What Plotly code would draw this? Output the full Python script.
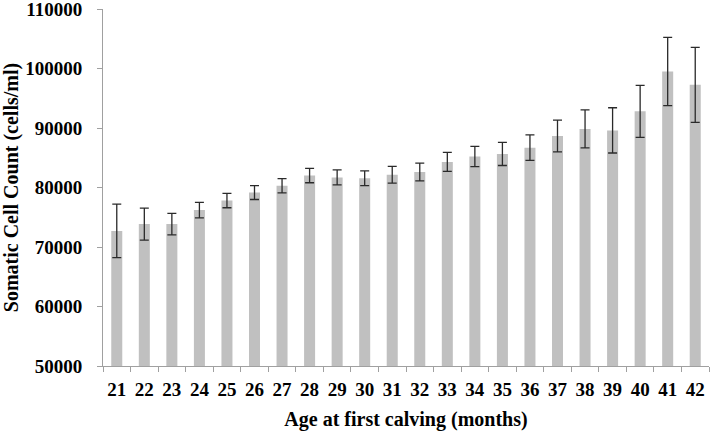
import plotly.graph_objects as go

ages = [str(a) for a in range(21, 43)]
scc_mean = [72700, 73850, 73850, 76200, 77800, 79150, 80300, 82000, 81700, 81550,
            82150, 82600, 84300, 85200, 85650, 86700, 88650, 89850, 89600, 92800,
            99500, 97250]
scc_err = [4500, 2700, 1800, 1300, 1200, 1170, 1200, 1200, 1250, 1250,
           1400, 1480, 1600, 1700, 1950, 2150, 2670, 3200, 3800, 4370,
           5740, 6300]
y_ticks = [50000, 60000, 70000, 80000, 90000, 100000, 110000]

font_family = "Liberation Serif, Times New Roman, serif"

fig = go.Figure(go.Bar(
    x=ages, y=scc_mean,
    marker=dict(color="#c0c0c0", line=dict(width=0)),
    error_y=dict(type="data", array=scc_err, visible=True,
                 color="#2a2a2a", thickness=1.3, width=4.5),
))

fig.update_layout(
    width=711, height=431,
    margin=dict(l=103, r=2, t=9, b=65, autoexpand=False),
    plot_bgcolor="white", paper_bgcolor="white",
    bargap=0.6, showlegend=False,
    font=dict(family=font_family, color="black"),
)
fig.update_xaxes(
    type="category", tickson="boundaries", ticks="outside", ticklen=5,
    tickcolor="#a0a0a0", showline=True, linecolor="#a0a0a0", linewidth=1,
    showgrid=False, automargin=False, ticklabelstandoff=6, tickangle=0,
    ticklabeloverflow="allow",
    tickfont=dict(family=font_family, size=19, color="black", weight="bold"),
    title=dict(text="<b>Age at first calving (months)</b>",
               font=dict(family=font_family, size=20, color="black")),
)
fig.update_yaxes(
    range=[50000, 110000], tickvals=y_ticks, ticktext=[str(v) for v in y_ticks],
    ticks="outside", ticklen=5, tickcolor="#a0a0a0", automargin=False,
    showline=True, linecolor="#a0a0a0", linewidth=1, showgrid=False, zeroline=False,
    ticklabelstandoff=11, ticklabeloverflow="allow",
    tickfont=dict(family=font_family, size=19, color="black", weight="bold"),
    title=dict(text="<b>Somatic Cell Count (cells/ml)</b>",
               font=dict(family=font_family, size=20, color="black")),
)

fig.write_html("out.html", config={"displayModeBar": False},
               post_script="document.body.style.margin='0px';")
